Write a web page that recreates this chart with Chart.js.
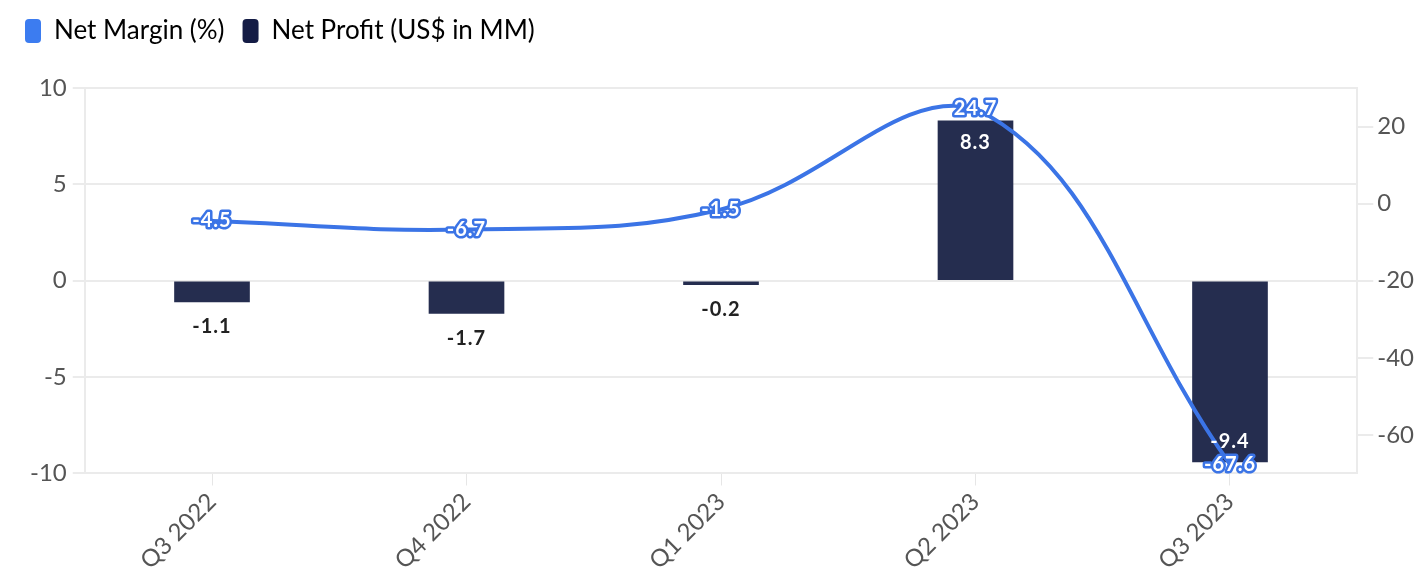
<!DOCTYPE html>
<html>
<head>
<meta charset="utf-8">
<script src="https://cdn.jsdelivr.net/npm/chart.js@4/dist/chart.umd.min.js"></script>
<style>
  html, body { margin: 0; padding: 0; background: #fff; }
  #wrap { width: 1418px; height: 577px; }
</style>
</head>
<body>
<div id="wrap"><canvas id="c"></canvas></div>
<script>
const quarters = ["Q3 2022", "Q4 2022", "Q1 2023", "Q2 2023", "Q3 2023"];
const netMargin = [-4.5, -6.7, -1.5, 24.7, -67.6];
const netProfit = [-1.1, -1.7, -0.2, 8.3, -9.4];
const profitTicks = [-10, -5, 0, 5, 10];
const marginTicks = [-60, -40, -20, 0, 20];

const blue = "#3b74e6";
const navy = "#252d4f";

Chart.defaults.font.family = "Lato";
Chart.defaults.color = "#555";

// draws the value labels, no datalabels plugin available offline
const valueLabels = {
  id: "valueLabels",
  afterDatasetsDraw(chart) {
    const ctx = chart.ctx;
    ctx.save();
    ctx.textAlign = "center";
    ctx.textBaseline = "middle";
    ctx.font = "bold 20px Lato";
    ctx.letterSpacing = "1px";

    // bars
    const bars = chart.getDatasetMeta(1);
    bars.data.forEach((bar, i) => {
      const v = netProfit[i];
      let y, color;
      if (v >= 0) {
        y = bar.y + 22; color = "#fff";
      } else if (bar.y + 28 > chart.chartArea.bottom) {
        y = bar.y - 20; color = "#fff";
      } else {
        y = bar.y + 25; color = "#222";
      }
      ctx.fillStyle = color;
      ctx.fillText(v.toFixed(1), bar.x, y);
    });

    // line
    const line = chart.getDatasetMeta(0);
    line.data.forEach((pt, i) => {
      const t = netMargin[i].toFixed(1);
      ctx.lineWidth = 5;
      ctx.lineJoin = "round";
      ctx.strokeStyle = blue;
      ctx.strokeText(t, pt.x, pt.y);
      ctx.fillStyle = "#fff";
      ctx.fillText(t, pt.x, pt.y);
    });
    ctx.restore();
  }
};

// extra room under the legend, and pull it to the left edge
const legendGap = {
  id: "legendGap",
  beforeInit(chart) {
    const fit = chart.legend.fit;
    chart.legend.fit = function () {
      fit.bind(chart.legend)();
      this.height += 34;
    };
  },
  afterLayout(chart) {
    chart.legend.left -= 17;
  }
};

new Chart(document.getElementById("c"), {
  data: {
    labels: quarters,
    datasets: [
      {
        type: "line",
        label: "Net Margin (%)",
        data: netMargin,
        yAxisID: "y1",
        borderColor: blue,
        backgroundColor: blue,
        borderWidth: 4,
        tension: 0.4,
        pointRadius: 0,
        order: 0
      },
      {
        type: "bar",
        label: "Net Profit (US$ in MM)",
        data: netProfit,
        yAxisID: "y",
        backgroundColor: navy,
        barThickness: 75,
        order: 1
      }
    ]
  },
  options: {
    responsive: true,
    maintainAspectRatio: false,
    animation: false,
    layout: { padding: { left: 24, right: 0, top: 0, bottom: 0 } },
    plugins: {
      tooltip: { enabled: false },
      legend: {
        position: "top",
        align: "start",
        labels: {
          color: "#444",
          font: { size: 26 },
          boxWidth: 16,
          boxHeight: 24,
          useBorderRadius: true,
          borderRadius: 4,
          padding: 18,
          generateLabels(chart) {
            return chart.data.datasets.map((ds, i) => ({
              text: ds.label,
              fillStyle: i === 0 ? "#3c7cf0" : "#141c45",
              strokeStyle: "transparent",
              lineWidth: 0,
              borderRadius: 4,
              datasetIndex: i
            }));
          }
        }
      }
    },
    scales: {
      x: {
        offset: true,
        grid: { offset: false, drawOnChartArea: false, tickLength: 12, color: "#e6e6e6" },
        border: { display: false },
        ticks: { maxRotation: 45, minRotation: 45, font: { size: 24 }, color: "#555", padding: 2 }
      },
      y: {
        position: "left",
        min: -10,
        max: 10,
        afterBuildTicks(axis) { axis.ticks = profitTicks.map(v => ({ value: v })); },
        grid: { color: "#ebebeb", lineWidth: 2, tickLength: 12 },
        border: { color: "#ebebeb", width: 2 },
        ticks: { font: { size: 24 }, color: "#555", padding: 6 }
      },
      y1: {
        position: "right",
        min: -70,
        max: 30,
        afterBuildTicks(axis) { axis.ticks = marginTicks.map(v => ({ value: v })); },
        grid: { drawOnChartArea: false, color: "#ebebeb", lineWidth: 2, tickLength: 16 },
        border: { color: "#ebebeb", width: 2 },
        ticks: { font: { size: 24 }, color: "#555", padding: 4 }
      }
    }
  },
  plugins: [valueLabels, legendGap]
});
</script>
</body>
</html>
